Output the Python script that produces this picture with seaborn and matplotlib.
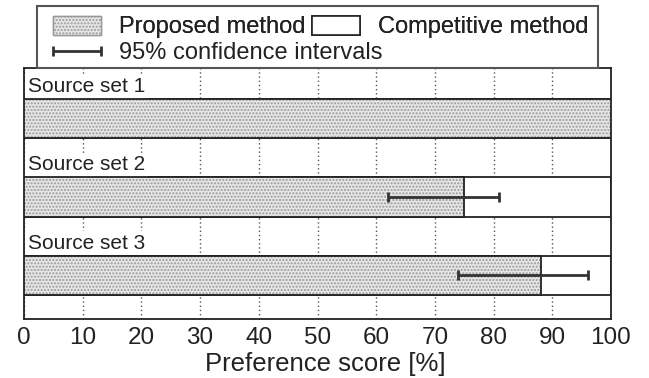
import matplotlib
matplotlib.use("Agg")
import matplotlib.pyplot as plt
import matplotlib.patches as mpatches
from matplotlib.legend_handler import HandlerErrorbar
import numpy as np
import pandas as pd
import seaborn as sns

# data
sources = ['Source set 1', 'Source set 2', 'Source set 3']
proposed = [100, 75, 88]
competitive = [100, 100, 100]
ci_low = [np.nan, 62, 74]
ci_high = [np.nan, 81, 96]
xticks = [0, 10, 20, 30, 40, 50, 60, 70, 80, 90, 100]

df = pd.DataFrame({'source': sources, 'proposed': proposed,
                   'competitive': competitive})

sns.set_style("white")
plt.rcParams['font.family'] = ['Liberation Sans', 'DejaVu Sans']

fig = plt.figure(figsize=(6.49, 3.78), dpi=100)
ax = fig.add_axes([24 / 649, 1 - 319 / 378, 587 / 649, 251 / 378])

dark = '#222222'
fill = '#e6e6e6'
dots = '#999999'

# competitive bars = full width, white
sns.barplot(data=df, x='competitive', y='source', orient='h', color='white',
            edgecolor=dark, linewidth=1.3, width=0.5, saturation=1, ax=ax, zorder=2)
# proposed bars: dotted gray fill, then black outline on top
sns.barplot(data=df, x='proposed', y='source', orient='h', color=fill,
            edgecolor=dots, hatch='.....', linewidth=0, width=0.5,
            saturation=1, ax=ax, zorder=3)
sns.barplot(data=df, x='proposed', y='source', orient='h', fill=False,
            edgecolor=dark, linewidth=1.3, width=0.5, ax=ax, zorder=4)

# confidence intervals
pos = np.arange(len(sources))
lo = np.array(proposed) - np.array(ci_low)
hi = np.array(ci_high) - np.array(proposed)
eb = ax.errorbar(proposed, pos, xerr=[lo, hi], fmt='none', ecolor='#333333',
                 elinewidth=2, capsize=3.5, capthick=2, zorder=5)

# row labels sit in the gap above each bar, masking the grid behind them
for i, name in enumerate(sources):
    ax.text(0.7, i - 0.34, name, fontsize=15, color=dark, va='baseline',
            ha='left', zorder=2.4,
            bbox=dict(facecolor='white', edgecolor='none', pad=2))

ax.set_xlim(0, 100)
ax.set_ylim(2.56, -0.65)
ax.set_xticks(xticks)
ax.set_yticks([])
ax.set_ylabel('')
ax.set_xlabel('Preference score [%]', fontsize=18.5, color=dark)
ax.xaxis.set_label_coords(0.514, -0.133)
ax.xaxis.label.set_va('top')
ax.tick_params(axis='x', length=0, pad=6, labelsize=17.5, labelcolor=dark)
ax.set_axisbelow(True)
ax.xaxis.grid(True, linestyle=(0, (1, 2)), color='#555555', linewidth=1)
for s in ax.spines.values():
    s.set_color(dark)
    s.set_linewidth(1.3)

# legend frame above the axes
frame = mpatches.Rectangle((37 / 649, 1 - 68 / 378), 561 / 649, 62 / 378,
                           transform=fig.transFigure, facecolor='white',
                           edgecolor='#555555', linewidth=1.5)
fig.patches.append(frame)

h_prop = mpatches.Patch(facecolor=fill, edgecolor=dots, hatch='.....', linewidth=1)
h_comp = mpatches.Patch(facecolor='white', edgecolor=dark, linewidth=1.2)
leg1 = fig.legend([h_prop, h_comp], ['Proposed method', 'Competitive method'],
                  ncol=2, loc='center left', bbox_to_anchor=(53 / 649, 1 - 27 / 378),
                  frameon=False, fontsize=17, handlelength=2.03, handleheight=0.85,
                  handletextpad=0.76, columnspacing=0.3, borderpad=0,
                  borderaxespad=0, labelcolor=dark)
leg2 = fig.legend([eb], ['95% confidence intervals'], loc='center left',
                  bbox_to_anchor=(53 / 649, 1 - 53 / 378), frameon=False,
                  fontsize=17, handlelength=2.03, handletextpad=0.76,
                  borderpad=0, borderaxespad=0, labelcolor=dark,
                  handler_map={type(eb): HandlerErrorbar(xerr_size=1.02)})
fig.add_artist(leg1)

fig.savefig('out.png', dpi=100)
